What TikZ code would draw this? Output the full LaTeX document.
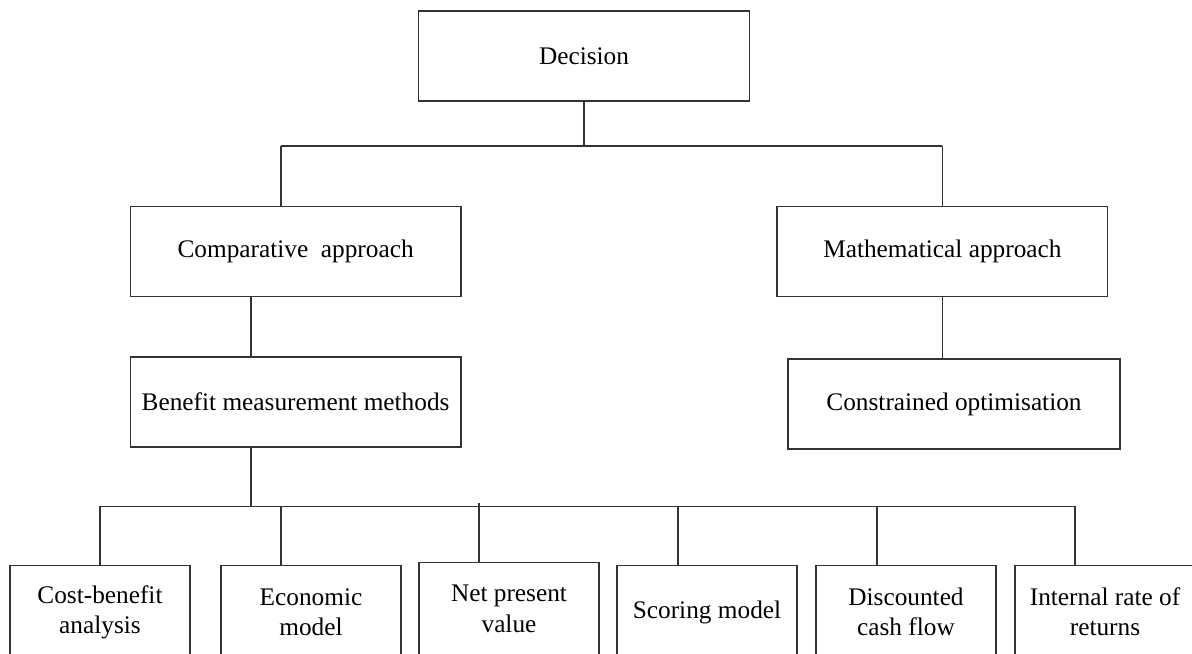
\documentclass[tikz,border=0pt]{standalone}
\usepackage{fontspec}
\setmainfont{Liberation Serif}
\usetikzlibrary{positioning}

\begin{document}
\begin{tikzpicture}[line width=0.85pt, draw=black!80,
    every node/.style={font=\fontsize{18}{21.5}\selectfont, align=center},
    box/.style={draw=black!80, minimum width=8.27cm, minimum height=2.25cm},
    leaf/.style={draw=black!80, minimum width=4.5cm, minimum height=2.325cm}]
    \useasboundingbox (0,0) rectangle (29.8,-16.35);

    \node[box] (dec) at (14.6,-1.4) {Decision};
    \node[box] (comp) at (7.39,-6.28) {Comparative~~approach};
    \node[box] (math) at (23.56,-6.29) {Mathematical approach};
    \node[box] (bmm) at (7.39,-10.05) {Benefit measurement methods};
    \node[box, minimum width=8.3cm] (copt) at (23.85,-10.1) {Constrained optimisation};

    \node[leaf] (cba) at (2.5,-15.3) {Cost-benefit\\analysis};
    \node[leaf] (eco) at (7.775,-15.3) {Economic\\model};
    \node[leaf] (npv) at (12.725,-15.22) {Net present\\value};
    \node[leaf] (sco) at (17.675,-15.3) {Scoring model};
    \node[leaf] (dcf) at (22.65,-15.3) {Discounted\\cash flow};
    \node[leaf] (irr) at (27.625,-15.3) {Internal rate of\\returns};

    % upper level
    \coordinate (ca) at (7.025,-3.65);
    \coordinate (ma) at (23.56,-3.65);
    \draw (dec.south) -- (dec.south |- ca);
    \draw (ca) -- (ma);
    \draw (ca) -- (ca |- comp.north);
    \draw (ma) -- (math.north);
    \draw (math.south) -- (copt.north -| math.south);

    % lower level
    \coordinate (cb) at (6.275,-12.66);
    \coordinate (bl) at (2.5,-12.66);
    \coordinate (br) at (26.875,-12.66);
    \draw (comp.south -| cb) -- (bmm.north -| cb);
    \draw (bmm.south -| cb) -- (cb);
    \draw (bl) -- (br);
    \foreach \n/\x/\t in {cba/2.5/-12.66, eco/7.025/-12.66, npv/11.975/-12.575,
                          sco/16.95/-12.66, dcf/21.925/-12.66, irr/26.875/-12.66}
        \draw (\x,\t) -- (\n.north -| \x,0);
\end{tikzpicture}
\end{document}
